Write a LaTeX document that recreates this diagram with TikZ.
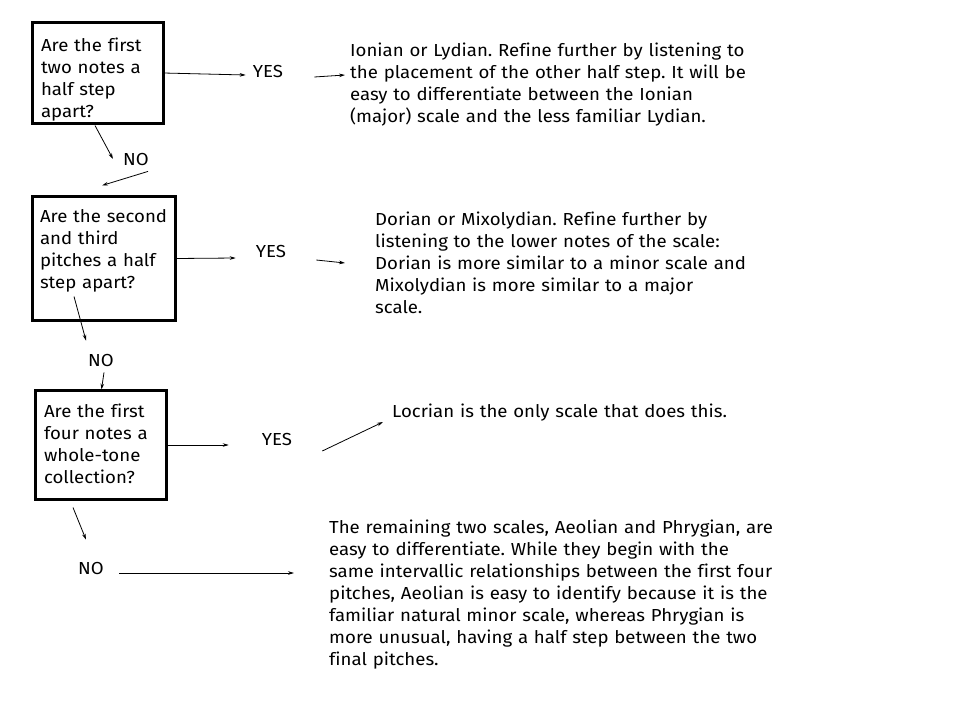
\documentclass[tikz,border=0pt]{standalone}
\usepackage{fontspec}
\setmainfont{Fira Sans}[FakeStretch=1.07,Ligatures=NoCommon]
\usepackage{tikz}
\usetikzlibrary{calc,arrows.meta}
\frenchspacing

\begin{document}
\begin{tikzpicture}[x=1pt,y=-1pt,
  txt/.style={font=\fontsize{17.4}{22}\selectfont},
  qbox/.style={txt,draw,line width=2.6pt,anchor=north west,align=left,
    inner ysep=0pt,inner xsep=8.5pt,outer sep=0pt},
  answer/.style={txt,inner sep=0pt},
  note/.style={txt,anchor=base west,align=left,text width=460pt,inner sep=0pt},
  arr/.style={line width=0.8pt,-{Stealth[length=6pt,width=3.6pt]}}]
\useasboundingbox (0,0) rectangle (960,720);

% questions
\node[qbox,text width=114pt,text height=28.5pt,text depth=72.5pt] (box1) at (32.5,22.5)
  {Are the first\\two notes a\\half step\\apart?};
\node[qbox,inner xsep=7.5pt,text width=128pt,text height=25.5pt,text depth=98.5pt] (box2) at (32.5,196.5)
  {Are the second\\and third\\pitches a half\\step apart?};
\node[qbox,text width=114pt,text height=26.5pt,text depth=82.5pt] (box3) at (35.5,390.5)
  {Are the first\\four notes a\\whole-tone\\collection?};

% yes / no
\node[answer] (yes1) at (268,72) {YES};
\node[answer] (no1) at (136,160) {NO};
\node[answer] (yes2) at (271,252) {YES};
\node[answer] (no2) at (101,360) {NO};
\node[answer] (yes3) at (277,439) {YES};
\node[answer] (no3) at (91,568) {NO};

% answers
\node[note] (ionian) at (350,56)
  {Ionian or Lydian. Refine further by listening to\\
   the placement of the other half step. It will be\\
   easy to differentiate between the Ionian\\
   (major) scale and the less familiar Lydian.};
\node[note] (dorian) at (375,225)
  {Dorian or Mixolydian. Refine further by\\
   listening to the lower notes of the scale:\\
   Dorian is more similar to a minor scale and\\
   Mixolydian is more similar to a major\\
   scale.};
\node[note] (locrian) at (392,417)
  {Locrian is the only scale that does this.};
\node[note] (rest) at (329,533)
  {The remaining two scales, Aeolian and Phrygian, are\\
   easy to differentiate. While they begin with the\\
   same intervallic relationships between the first four\\
   pitches, Aeolian is easy to identify because it is the\\
   familiar natural minor scale, whereas Phrygian is\\
   more unusual, having a half step between the two\\
   final pitches.};

% arrows
\draw[arr] (box1.east) -- ($(yes1.west)+(-7,3)$);
\draw[arr] ($(yes1.east)+(31,5)$) -- ($(ionian.base west)+(-5,19)$);
\draw[arr] ($(box1.south)+(-3,2)$) -- ($(no1.west)+(-10,-1)$);
\draw[arr] ($(no1.south east)+(-1,5)$) -- ($(box2.north)+(-2,-11)$);

\draw[arr] (box2.east) -- ($(yes2.west)+(-20,6)$);
\draw[arr] ($(yes2.east)+(30,8)$) -- ($(dorian.base west)+(-30,38)$);
\draw[arr] ($(box2.south)+(-30,-24)$) -- ($(no2.north)+(-15,-13)$);
\draw[arr] ($(no2.south)+(3,6)$) -- ($(box3.north)+(0.5,-1)$);

\draw[arr] (box3.east) -- ($(yes3.west)+(-33,6)$);
\draw[arr] ($(yes3.east)+(30,12)$) -- ($(locrian.base west)+(-9,5)$);
\draw[arr] ($(box3.south)+(-28,8)$) -- ($(no3.north)+(-5,-22)$);
\draw[arr] ($(no3.east)+(15,5)$) -- ($(rest.base west)+(-35,40)$);
\end{tikzpicture}
\end{document}
